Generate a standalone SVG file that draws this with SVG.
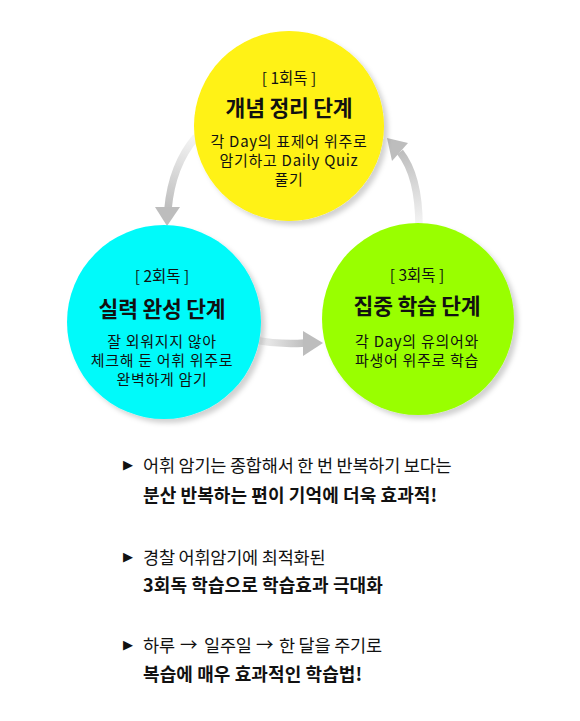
<svg xmlns="http://www.w3.org/2000/svg" width="580" height="721" viewBox="0 0 580 721">
  <style>
    text { font-family: "Noto Sans CJK KR", "Noto Sans", sans-serif; fill: #111; text-anchor: middle; }
    .tag { font-size: 15.5px; }
    .title { font-size: 21.5px; font-weight: 700; letter-spacing: -0.2px; }
    .body { font-size: 15px; letter-spacing: 0.7px; }
    .line { font-size: 17.5px; text-anchor: start; letter-spacing: -0.2px; }
    .bold { font-size: 18px; font-weight: 700; text-anchor: start; letter-spacing: 0.1px; }
    .bullet { font-family: "DejaVu Sans", sans-serif; font-size: 13px; text-anchor: start; }
    .arrowline { fill: none; stroke-width: 7.5; }
  </style>
  <defs>
    <filter id="shadow" x="-20%" y="-20%" width="140%" height="140%">
      <feGaussianBlur in="SourceAlpha" stdDeviation="2.5"/>
      <feOffset dx="4" dy="4" result="b"/>
      <feFlood flood-color="#000" flood-opacity="0.18"/>
      <feComposite in2="b" operator="in"/>
      <feMerge><feMergeNode/><feMergeNode in="SourceGraphic"/></feMerge>
    </filter>
    <linearGradient id="g1" gradientUnits="userSpaceOnUse" x1="195" y1="138" x2="168" y2="210">
      <stop offset="0" stop-color="#f4f4f4"/>
      <stop offset="1" stop-color="#bdbdbd"/>
    </linearGradient>
    <linearGradient id="g2" gradientUnits="userSpaceOnUse" x1="256" y1="342" x2="306" y2="343">
      <stop offset="0" stop-color="#f4f4f4"/>
      <stop offset="1" stop-color="#bdbdbd"/>
    </linearGradient>
    <linearGradient id="g3" gradientUnits="userSpaceOnUse" x1="418" y1="225" x2="402" y2="150">
      <stop offset="0" stop-color="#f4f4f4"/>
      <stop offset="1" stop-color="#bdbdbd"/>
    </linearGradient>
  </defs>
  <rect width="580" height="721" fill="#fff"/>

  <g id="connectors">
    <path class="arrowline" stroke="url(#g1)" d="M196,137 Q172,165 168,209"/>
    <polygon points="155,207 180,207 167,226" fill="#bdbdbd"/>
    <path class="arrowline" stroke="url(#g2)" d="M254,340 Q280,345 305,343"/>
    <polygon points="303,331 323,343 303,356" fill="#bdbdbd"/>
    <path class="arrowline" stroke="url(#g3)" d="M419,226 Q419,176 400,152"/>
    <polygon points="387,138 408,143 392,161" fill="#bdbdbd"/>
  </g>

  <g id="node-1">
    <circle cx="289" cy="126" r="95" fill="#fff212" filter="url(#shadow)"/>
    <text class="tag" x="289" y="84" xml:space="preserve">[ 1회독 ]</text>
    <text class="title" x="289" y="116">개념 정리 단계</text>
    <text class="body" x="289" y="147">각 Day의 표제어 위주로</text>
    <text class="body" x="289" y="166">암기하고 Daily Quiz</text>
    <text class="body" x="289" y="185">풀기</text>
  </g>

  <g id="node-2">
    <circle cx="164" cy="322" r="97" fill="#00fafa" filter="url(#shadow)"/>
    <text class="tag" x="162" y="282" xml:space="preserve">[ 2회독 ]</text>
    <text class="title" x="162" y="317">실력 완성 단계</text>
    <text class="body" x="162" y="347">잘 외워지지 않아</text>
    <text class="body" x="162" y="366">체크해 둔 어휘 위주로</text>
    <text class="body" x="162" y="385">완벽하게 암기</text>
  </g>

  <g id="node-3">
    <circle cx="418" cy="319" r="96" fill="#99ff00" filter="url(#shadow)"/>
    <text class="tag" x="417" y="281" xml:space="preserve">[ 3회독 ]</text>
    <text class="title" x="417" y="314">집중 학습 단계</text>
    <text class="body" x="417" y="347">각 Day의 유의어와</text>
    <text class="body" x="417" y="366">파생어 위주로 학습</text>
  </g>

  <g id="notes">
    <text class="bullet" x="123" y="469">▶</text>
    <text class="line" x="143" y="472">어휘 암기는 종합해서 한 번 반복하기 보다는</text>
    <text class="bold" x="143" y="502">분산 반복하는 편이 기억에 더욱 효과적!</text>

    <text class="bullet" x="123" y="561">▶</text>
    <text class="line" x="143" y="564">경찰 어휘암기에 최적화된</text>
    <text class="bold" x="143" y="592">3회독 학습으로 학습효과 극대화</text>

    <text class="bullet" x="123" y="649">▶</text>
    <text class="line" x="143" y="652">하루</text>
    <text class="line" x="180" y="651">→</text>
    <text class="line" x="204" y="652">일주일</text>
    <text class="line" x="256" y="651">→</text>
    <text class="line" x="279" y="652">한 달을 주기로</text>
    <text class="bold" x="143" y="681">복습에 매우 효과적인 학습법!</text>
  </g>
</svg>
